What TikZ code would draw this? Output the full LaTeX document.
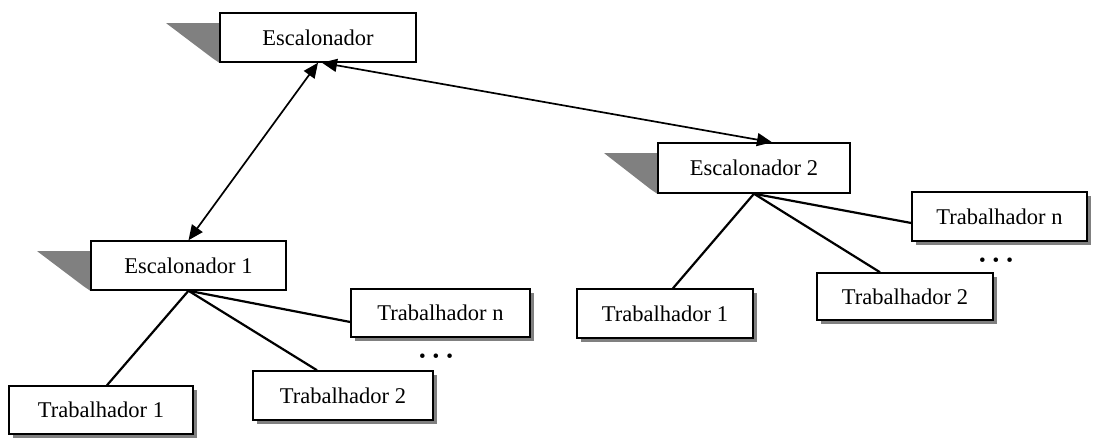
\documentclass[tikz,border=0pt]{standalone}
\usepackage{fontspec}
\setmainfont{Liberation Serif}
\usetikzlibrary{arrows.meta,calc,shadows,backgrounds}
\definecolor{shadowgray}{HTML}{808080}
\begin{document}
\begin{tikzpicture}[x=1pt,y=-1pt,
  font=\fontsize{22.5}{26}\selectfont,
  box/.style={draw=black,line width=1.5pt,fill=white,inner sep=0pt,minimum height=48pt},
  sched/.style={box,minimum height=49pt},
  worker/.style={box,drop shadow={shadow xshift=4pt,shadow yshift=-4pt,fill=shadowgray,opacity=1}},
  link/.style={line width=2.2pt},
  dual/.style={line width=1.7pt,{Triangle[length=15pt,width=13pt]}-{Triangle[length=15pt,width=13pt]}},
  wedge/.style={fill=shadowgray},
  dots/.style={inner sep=0pt,font=\fontsize{19}{19}\selectfont}
]
\useasboundingbox (0,0) rectangle (1103,438);

% schedulers
\node[sched,minimum width=196pt] (top) at (318,37.5) {Escalonador};
\node[sched,minimum width=195pt] (e1) at (188.5,265.5) {Escalonador 1};
\node[sched,minimum width=192pt,minimum height=50pt] (e2) at (754,168) {Escalonador 2};

% workers of scheduler 1
\node[worker,minimum width=184pt] (t1L) at (101,410) {Trabalhador 1};
\node[worker,minimum width=180pt,minimum height=49pt] (t2L) at (343,395.5) {Trabalhador 2};
\node[worker,minimum width=179pt] (tnL) at (440.5,313) {Trabalhador n};

% workers of scheduler 2
\node[worker,minimum width=176pt,minimum height=49pt] (t1R) at (665,313.5) {Trabalhador 1};
\node[worker,minimum width=176pt,minimum height=47pt] (t2R) at (905,296.5) {Trabalhador 2};
\node[worker,minimum width=175pt,minimum height=49pt] (tnR) at (999.5,216.5) {Trabalhador n};

% ellipses
\node[dots] (dotsL) at (436,358) {•\hspace{7pt}•\hspace{7pt}•};
\node[dots] (dotsR) at (996,262) {•\hspace{7pt}•\hspace{7pt}•};

% slanted shadows on the left of the schedulers
\begin{pgfonlayer}{background}
\foreach \n in {top,e1,e2}
  \fill[wedge] ($(\n.north west)+(-53,11)$) -- ($(\n.north west)+(0,11)$)
     -- (\n.south west) -- ($(\n.south west)+(-6,-4)$) -- cycle;
\end{pgfonlayer}

% scheduler links
\draw[dual] (top.south) -- (e1.north);
\draw[dual] ([xshift=4pt]top.south) -- ([xshift=18pt]e2.north);

% worker links
\draw[link] (e1.south) -- ([xshift=6pt]t1L.north);
\draw[link] (e1.south) -- ([xshift=-26pt]t2L.north);
\draw[link] (e1.south) -- ([yshift=-9pt]tnL.west);
\draw[link] (e2.south) -- ([xshift=8pt]t1R.north);
\draw[link] (e2.south) -- ([xshift=-25pt]t2R.north);
\draw[link] (e2.south) -- ([yshift=-6.5pt]tnR.west);
\end{tikzpicture}
\end{document}
